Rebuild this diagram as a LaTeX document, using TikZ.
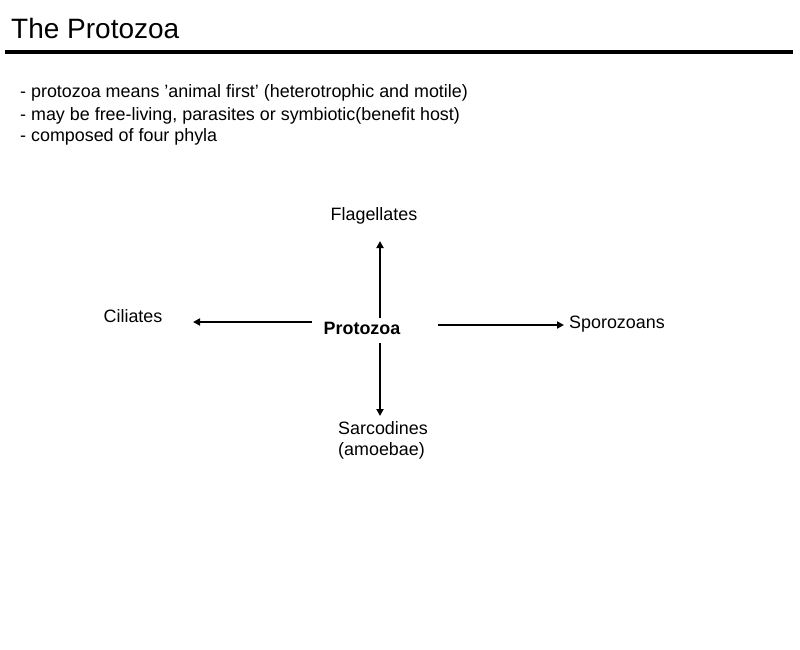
\documentclass[tikz,border=0pt]{standalone}
\usepackage{fontspec}
\setmainfont{Liberation Sans}
\usetikzlibrary{arrows.meta}
\begin{document}
\begin{tikzpicture}[x=1pt,y=-1pt,
  txt/.style={inner sep=0pt,font=\fontsize{17.9}{21}\selectfont},
  arr/.style={line width=2.6pt,-{Triangle[length=7pt,width=7pt]}}]
\useasboundingbox (0,0) rectangle (800,649);
\node[inner sep=0pt,anchor=west,font=\fontsize{28}{32}\selectfont] (title) at (11,28) {The Protozoa};
\coordinate (r1) at (5,52); \coordinate (r2) at (793,52);
\draw[line width=3.5pt] (r1) -- (r2);
\node[txt,anchor=west] (l1) at (20,93) {- protozoa means \char"27animal first\char"27{} (heterotrophic and motile)};
\node[txt,anchor=west] (l2) at (20,116) {- may be free-living, parasites or symbiotic(benefit host)};
\node[txt,anchor=west] (l3) at (20,137) {- composed of four phyla};
\node[txt,font=\fontsize{17.9}{21}\selectfont\bfseries] (p) at (362,328) {Protozoa};
\node[txt] (f) at (374,216) {Flagellates};
\node[txt,align=left] (s) at (383,440) {Sarcodines\\(amoebae)};
\node[txt] (c) at (133,316) {Ciliates};
\node[txt] (sp) at (617,324) {Sporozoans};
\coordinate (u0) at (380,318); \coordinate (u1) at (380,241);
\coordinate (d0) at (380,343); \coordinate (d1) at (380,416);
\coordinate (l0) at (312,322); \coordinate (l1e) at (193,322);
\coordinate (q0) at (438,325); \coordinate (q1) at (564,325);
\draw[arr] (u0) -- (u1);
\draw[arr] (d0) -- (d1);
\draw[arr] (l0) -- (l1e);
\draw[arr] (q0) -- (q1);
\end{tikzpicture}
\end{document}
